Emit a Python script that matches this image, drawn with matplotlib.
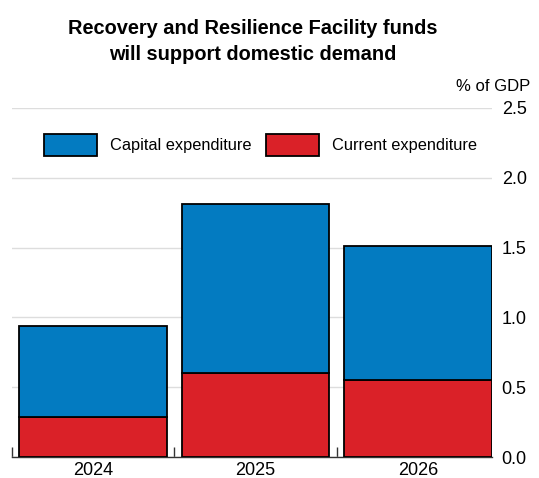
import matplotlib
matplotlib.use("Agg")
import matplotlib.pyplot as plt
import numpy as np

plt.rcParams['font.family'] = ['Liberation Sans', 'DejaVu Sans']

years = ["2024", "2025", "2026"]
current = [0.29, 0.60, 0.55]
capital = [0.65, 1.21, 0.96]
yticks = [0.0, 0.5, 1.0, 1.5, 2.0, 2.5]

blue = "#037BC1"
red = "#DA2128"

fig = plt.figure(figsize=(5.39, 4.78), dpi=100)
ax = fig.add_axes([0.0217, 0.0439, 0.8911, 0.7302])

x = np.arange(len(years))
w = 0.906
ax.bar(x, current, w, color=red, edgecolor="black", linewidth=1.3, label="Current expenditure", zorder=3)
ax.bar(x, capital, w, bottom=current, color=blue, edgecolor="black", linewidth=1.3, label="Capital expenditure", zorder=3)

ax.set_xlim(-0.5, 2.455)
ax.set_ylim(0, 2.5)
ax.set_yticks(yticks)
ax.set_yticklabels([f"{v:.1f}" for v in yticks])
ax.yaxis.tick_right()
ax.tick_params(axis='y', length=0, labelsize=13, pad=7)
ax.grid(axis='y', color="#DDDDDD", linewidth=1, zorder=0)

ax.set_xticks(x)
ax.set_xticklabels(years)
ax.tick_params(axis='x', length=0, labelsize=13, pad=3.5)
ax.set_xticks([-0.5, 0.5, 1.5], minor=True)
ax.tick_params(axis='x', which='minor', direction='in', length=7, width=1, color='#333333')

for s in ['top', 'left', 'right']:
    ax.spines[s].set_visible(False)
ax.spines['bottom'].set_color('#333333')
ax.spines['bottom'].set_linewidth(1)

handles, labels = ax.get_legend_handles_labels()
leg = ax.legend(handles[::-1], labels[::-1], loc='center', bbox_to_anchor=(0.518, 0.894),
                ncol=2, frameon=False, fontsize=11.75, handlelength=3.25, handleheight=1.65,
                columnspacing=0.86, handletextpad=0.8, borderpad=0, borderaxespad=0)

fig.text(0.469, 0.913, "Recovery and Resilience Facility funds\nwill support domestic demand",
         ha='center', va='center', fontsize=14.4, fontweight='bold', linespacing=1.5)
fig.text(0.983, 0.82, "% of GDP", ha='right', va='center', fontsize=12)

fig.savefig("out.png", dpi=100)
